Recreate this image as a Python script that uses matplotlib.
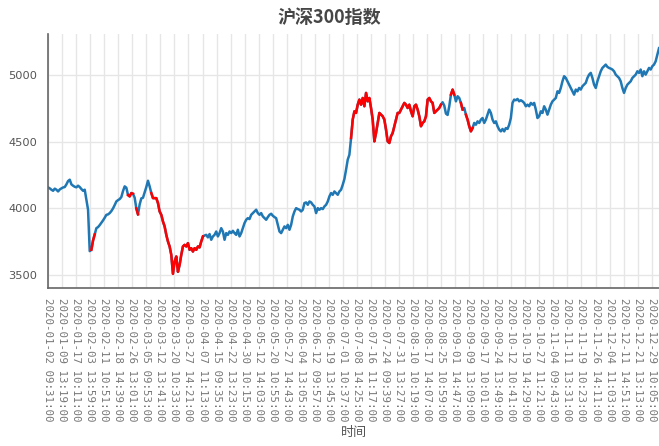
import numpy as np
import matplotlib
matplotlib.use("Agg")
import matplotlib.pyplot as plt

plt.rcParams['font.family'] = ['Noto Sans CJK SC', 'DejaVu Sans']

# 沪深300 分钟数据（按图读取，均匀取样）
prices = [
    4157, 4150, 4140, 4132, 4148, 4140, 4127, 4142, 4150, 4157,
    4160, 4180, 4205, 4215, 4180, 4170, 4162, 4158, 4170, 4160,
    4145, 4132, 4140, 4065, 3990, 3680, 3690, 3760, 3805, 3852,
    3860, 3875, 3892, 3910, 3930, 3952, 3955, 3965, 3980, 4000,
    4025, 4052, 4062, 4070, 4085, 4130, 4165, 4155, 4100, 4090,
    4115, 4110, 4080, 4000, 3955, 4030, 4075, 4080, 4120, 4160,
    4207, 4165, 4115, 4077, 4077, 4077, 4040, 3977, 3952, 3902,
    3865, 3802, 3752, 3715, 3652, 3510, 3602, 3640, 3525, 3577,
    3652, 3715, 3727, 3715, 3740, 3690, 3702, 3677, 3702, 3690,
    3715, 3708, 3752, 3790, 3797, 3802, 3783, 3808, 3765, 3790,
    3802, 3827, 3790, 3815, 3852, 3827, 3765, 3815, 3802, 3827,
    3815, 3832, 3815, 3802, 3840, 3790, 3815, 3852, 3890, 3915,
    3927, 3920, 3952, 3965, 3977, 3990, 3965, 3952, 3965, 3940,
    3927, 3915, 3935, 3952, 3960, 3945, 3935, 3927, 3877, 3827,
    3815, 3840, 3865, 3852, 3877, 3840, 3877, 3940, 3977, 4002,
    3995, 3990, 3977, 3990, 4040, 4045, 4027, 4052, 4045, 4027,
    4015, 3965, 4002, 3990, 4002, 3995, 4015, 4027, 4052, 4090,
    4115, 4102, 4127, 4115, 4102, 4127, 4140, 4177, 4220, 4290,
    4365, 4402, 4527, 4665, 4727, 4715, 4777, 4815, 4777, 4827,
    4765, 4865, 4802, 4827, 4752, 4665, 4502, 4565, 4640, 4715,
    4702, 4690, 4665, 4590, 4502, 4490, 4540, 4565, 4615, 4665,
    4715, 4715, 4740, 4765, 4790, 4777, 4752, 4777, 4727, 4690,
    4765, 4777, 4740, 4690, 4615, 4640, 4652, 4690, 4815, 4827,
    4802, 4790, 4715, 4727, 4740, 4752, 4777, 4795, 4770, 4710,
    4700, 4765, 4852, 4890, 4852, 4802, 4840, 4827, 4790, 4740,
    4752, 4702, 4665, 4615, 4577, 4602, 4640, 4627, 4652, 4640,
    4665, 4677, 4640, 4665, 4702, 4740, 4715, 4665, 4640, 4652,
    4615, 4590, 4577, 4595, 4577, 4602, 4595, 4627, 4677, 4790,
    4815, 4810, 4820, 4802, 4810, 4802, 4790, 4765, 4777, 4765,
    4790, 4777, 4790, 4740, 4677, 4690, 4727, 4715, 4765, 4740,
    4702, 4740, 4777, 4802, 4815, 4827, 4877, 4865, 4902, 4952,
    4990, 4977, 4952, 4927, 4902, 4877, 4852, 4890, 4877, 4902,
    4890, 4915, 4927, 4940, 4977, 5002, 5015, 4977, 4927, 4902,
    4952, 4990, 5027, 5052, 5065, 5077, 5060, 5052, 5047, 5040,
    5027, 5002, 4990, 4977, 4952, 4902, 4865, 4902, 4927, 4940,
    4952, 4977, 4990, 5002, 5027, 5015, 5040, 4990, 5027, 5002,
    5027, 5052, 5040, 5065, 5077, 5102, 5152, 5200,
]

# 标红的区间（样本序号）
red_ranges = [(26, 28), (48, 51), (53, 54), (62, 93), (182, 236),
              (242, 244), (248, 249), (251, 255)]

tick_labels = [
    '2020-01-02 09:31:00', '2020-01-09 13:19:00', '2020-01-17 10:11:00',
    '2020-02-03 13:59:00', '2020-02-11 10:51:00', '2020-02-18 14:39:00',
    '2020-02-26 13:01:00', '2020-03-05 09:53:00', '2020-03-12 13:41:00',
    '2020-03-20 10:33:00', '2020-03-27 14:21:00', '2020-04-07 11:13:00',
    '2020-04-15 09:35:00', '2020-04-22 13:23:00', '2020-04-30 10:15:00',
    '2020-05-12 14:03:00', '2020-05-20 10:55:00', '2020-05-27 14:43:00',
    '2020-06-04 13:05:00', '2020-06-12 09:57:00', '2020-06-19 13:45:00',
    '2020-07-01 10:37:00', '2020-07-08 14:25:00', '2020-07-16 11:17:00',
    '2020-07-24 09:39:00', '2020-07-31 13:27:00', '2020-08-10 10:19:00',
    '2020-08-17 14:07:00', '2020-08-25 10:59:00', '2020-09-01 14:47:00',
    '2020-09-09 13:09:00', '2020-09-17 10:01:00', '2020-09-24 13:49:00',
    '2020-10-12 10:41:00', '2020-10-19 14:29:00', '2020-10-27 11:21:00',
    '2020-11-04 09:43:00', '2020-11-11 13:31:00', '2020-11-19 10:23:00',
    '2020-11-26 14:11:00', '2020-12-04 11:03:00', '2020-12-11 14:51:00',
    '2020-12-21 13:13:00', '2020-12-29 10:05:00',
]

total_minutes = 243 * 240   # 全年分钟K线数
tick_step = 1340            # 每隔多少根标一个时间

y = np.array(prices, dtype=float)
x = np.linspace(0, total_minutes, len(y))

mask = np.zeros(len(y), dtype=bool)
for a, b in red_ranges:
    mask[a:b + 1] = True
y_red = np.where(mask, y, np.nan)

fig = plt.figure(figsize=(6.59, 4.46), dpi=100)
ax = fig.add_axes([0.073, 0.354, 0.927, 0.570])

ax.plot(x, y, color='#1f77b4', lw=1.8)
ax.plot(x, y_red, color='#ff0000', lw=1.8)

ax.set_xlim(0, total_minutes)
ax.set_ylim(3403, 5307)
ax.set_yticks([3500, 4000, 4500, 5000])
ax.set_yticklabels(['3500', '4000', '4500', '5000'], family='DejaVu Sans')
ax.set_xticks(np.arange(len(tick_labels)) * tick_step)
ax.set_xticklabels(tick_labels, rotation=270, fontsize=7.75, color='#777777',
                   family='DejaVu Sans Mono')
ax.tick_params(axis='y', labelsize=8.2, labelcolor='#555555', length=0, pad=8)
ax.tick_params(axis='x', length=0, pad=7)

ax.grid(True, color='#e6e6e6', lw=1)
ax.set_axisbelow(True)
for s in ['top', 'right']:
    ax.spines[s].set_visible(False)
for s in ['left', 'bottom']:
    ax.spines[s].set_color('#666666')
    ax.spines[s].set_linewidth(1.2)

ax.set_xlabel('时间', fontsize=9.4, color='#555555', labelpad=3)
fig.text(0.5, 0.961, '沪深300指数', ha='center', va='center',
         fontsize=13, fontweight='bold', color='#464646')

plt.savefig('out.png', dpi=100)
